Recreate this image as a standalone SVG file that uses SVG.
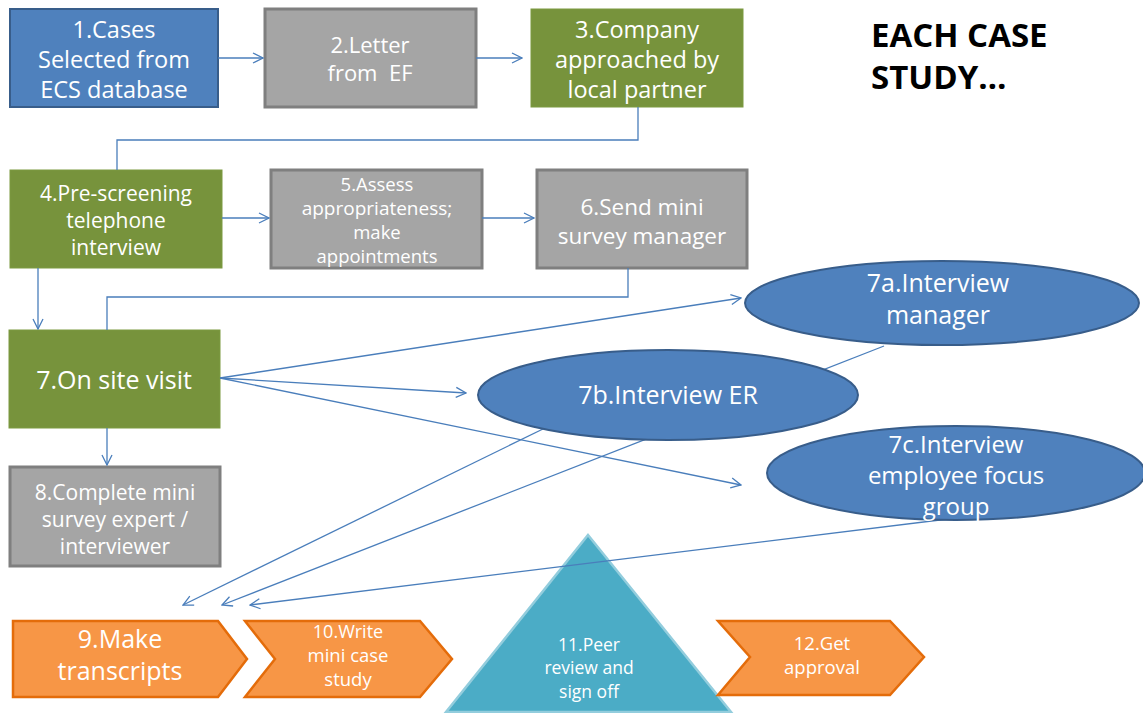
<svg xmlns="http://www.w3.org/2000/svg" width="1143" height="713" viewBox="0 0 1143 713">
<defs>
<style>
.t{font-family:"Open Sans","Liberation Sans",sans-serif;fill:#fff;text-anchor:middle}
.blue{fill:#4f81bd;stroke:#385d8a;stroke-width:2}
.gray{fill:#a5a5a5;stroke:#7f7f7f;stroke-width:3}
.green{fill:#77933c;stroke:#7c9a40;stroke-width:1}
.orange{fill:#f79646;stroke:#e46c0a;stroke-width:2.5}
.tri{fill:#4bacc6;stroke:#93cddd;stroke-width:2.5}
.c{fill:none;stroke:#4a7ebb;stroke-width:1.3}
.a{marker-end:url(#ah)}
</style>
<marker id="ah" viewBox="0 0 12 12" refX="11" refY="6" markerWidth="12" markerHeight="12" markerUnits="userSpaceOnUse" orient="auto">
<path d="M1,1 L11,6 L1,11" fill="none" stroke="#4a7ebb" stroke-width="1.3"/>
</marker>
</defs>
<rect width="1143" height="713" fill="#fff"/>

<g id="title">
<text x="871" y="47" font-family="Open Sans, Liberation Sans, sans-serif" font-weight="bold" font-size="33" fill="#000">EACH CASE</text>
<text x="871" y="89" font-family="Open Sans, Liberation Sans, sans-serif" font-weight="bold" font-size="33" fill="#000">STUDY…</text>
</g>

<g id="n1"><rect class="blue" x="10" y="9" width="208" height="98"/>
<text class="t" font-size="23.5" x="114" y="38">1.Cases</text>
<text class="t" font-size="23.5" x="114" y="68">Selected from</text>
<text class="t" font-size="23.5" x="114" y="98">ECS database</text></g>

<g id="n2"><rect class="gray" x="265" y="9" width="211" height="98"/>
<text class="t" font-size="22" x="370" y="53">2.Letter</text>
<text class="t" font-size="22" x="370" y="81" xml:space="preserve">from  EF</text></g>

<g id="n3"><rect class="green" x="531" y="9" width="212" height="98"/>
<text class="t" font-size="23.5" x="637" y="38">3.Company</text>
<text class="t" font-size="23.5" x="637" y="68">approached by</text>
<text class="t" font-size="23.5" x="637" y="98">local partner</text></g>

<g id="n4"><rect class="green" x="10" y="170" width="212" height="98"/>
<text class="t" font-size="21" x="116" y="201">4.Pre-screening</text>
<text class="t" font-size="21" x="116" y="228">telephone</text>
<text class="t" font-size="21" x="116" y="255">interview</text></g>

<g id="n5"><rect class="gray" x="271" y="170" width="211" height="98"/>
<text class="t" font-size="18.5" x="377" y="191">5.Assess</text>
<text class="t" font-size="19" x="377" y="215">appropriateness;</text>
<text class="t" font-size="18.5" x="377" y="239">make</text>
<text class="t" font-size="18.5" x="377" y="263">appointments</text></g>

<g id="n6"><rect class="gray" x="537" y="170" width="210" height="98"/>
<text class="t" font-size="22.5" x="642" y="215">6.Send mini</text>
<text class="t" font-size="22.5" x="642" y="244">survey manager</text></g>

<g id="n7"><rect class="green" x="9" y="330" width="211" height="98"/>
<text class="t" font-size="25" x="114" y="389">7.On site visit</text></g>

<g id="n8"><rect class="gray" x="10" y="467" width="210" height="99"/>
<text class="t" font-size="21" x="115" y="500">8.Complete mini</text>
<text class="t" font-size="21" x="115" y="527">survey expert /</text>
<text class="t" font-size="21" x="115" y="554">interviewer</text></g>

<g id="n9"><polygon class="orange" points="13,621 218,621 247,659 218,697 13,697"/>
<text class="t" font-size="25" x="120" y="648">9.Make</text>
<text class="t" font-size="25" x="120" y="680">transcripts</text></g>

<g id="n10"><polygon class="orange" points="245,621 420,621 452,659 420,697 245,697 275,659"/>
<text class="t" font-size="18" x="348" y="638">10.Write</text>
<text class="t" font-size="18.5" x="348" y="662">mini case</text>
<text class="t" font-size="18.5" x="348" y="686">study</text></g>

<g id="n11"><polygon class="tri" points="588,535 731,712 446,712"/>
<text class="t" font-size="17.5" x="589" y="651">11.Peer</text>
<text class="t" font-size="17.5" x="589" y="674">review and</text>
<text class="t" font-size="17.5" x="589" y="698">sign off</text></g>

<g id="n12"><polygon class="orange" points="718,621 890,621 924,657 890,695 718,695 750,657"/>
<text class="t" font-size="18.5" x="822" y="650">12.Get</text>
<text class="t" font-size="18.5" x="822" y="674">approval</text></g>

<g id="connectors">
<path class="c a" d="M218,58 H263"/>
<path class="c a" d="M476,58 H522"/>
<path class="c" d="M638,107 V140 H117 V170"/>
<path class="c a" d="M222,218 H269"/>
<path class="c a" d="M482,218 H534"/>
<path class="c" d="M628,268 V297 H107 V330"/>
<path class="c a" d="M38,268 V329"/>
<path class="c a" d="M107,428 V465"/>
<path class="c a" d="M220,378 L741,298"/>
<path class="c a" d="M220,378 L466,393"/>
<path class="c a" d="M220,378 L741,485"/>
<path class="c a" d="M884,346 L222,605"/>
<path class="c a" d="M545,428 L183,605"/>
<path class="c a" d="M948,519 L250,605"/>
</g>

<g id="n7a"><ellipse class="blue" cx="942" cy="303" rx="197" ry="42"/>
<text class="t" font-size="25" x="938" y="292">7a.Interview</text>
<text class="t" font-size="25" x="938" y="324">manager</text></g>

<g id="n7b"><ellipse class="blue" cx="668" cy="395" rx="190" ry="45"/>
<text class="t" font-size="25" x="668" y="404">7b.Interview ER</text></g>

<g id="n7c"><ellipse class="blue" cx="956" cy="473" rx="189" ry="47"/>
<text class="t" font-size="24" x="956" y="453">7c.Interview</text>
<text class="t" font-size="24" x="956" y="484">employee focus</text>
<text class="t" font-size="24" x="956" y="515">group</text></g>
</svg>
